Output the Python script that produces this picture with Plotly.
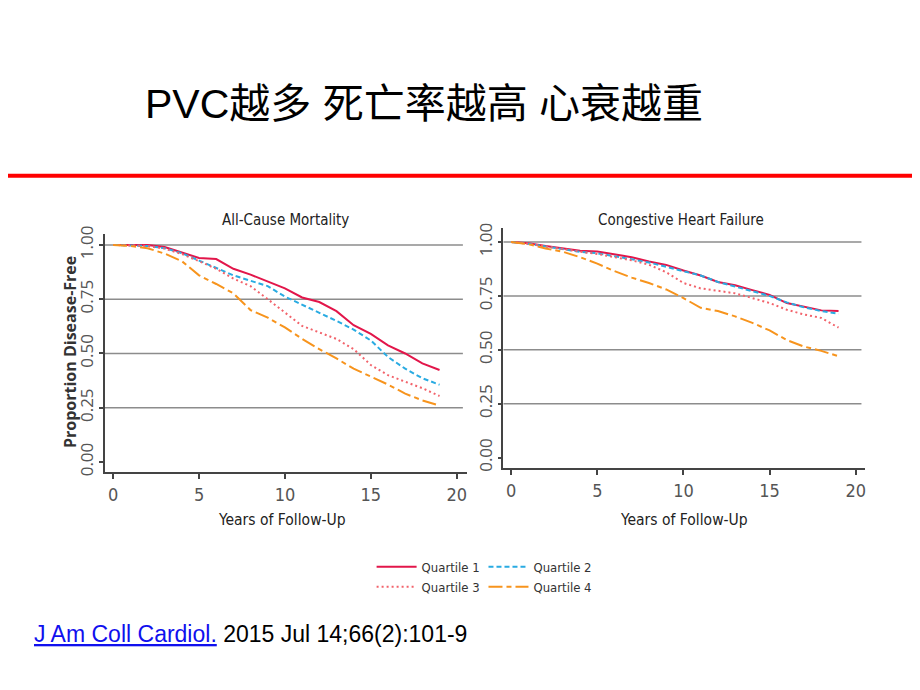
import plotly.graph_objects as go

# ---------------- data ----------------
years = [0, 1, 2, 3, 4, 5, 6, 7, 8, 9, 10, 11, 12, 13, 14, 15, 16, 17, 18, 19]

# All-Cause Mortality
acm_q1 = [1.0, 1.0, 1.0, 0.99, 0.965, 0.94, 0.935, 0.89, 0.863, 0.83, 0.80, 0.758, 0.737, 0.695, 0.63, 0.59, 0.537, 0.50, 0.454, 0.424]
acm_q2 = [1.0, 0.998, 0.995, 0.985, 0.962, 0.928, 0.895, 0.86, 0.835, 0.81, 0.762, 0.725, 0.687, 0.65, 0.61, 0.56, 0.484, 0.43, 0.386, 0.356]
acm_q3 = [1.0, 0.998, 0.995, 0.983, 0.958, 0.925, 0.89, 0.845, 0.81, 0.75, 0.687, 0.627, 0.597, 0.567, 0.52, 0.447, 0.40, 0.37, 0.34, 0.304]
acm_q4 = [1.0, 0.995, 0.985, 0.96, 0.925, 0.86, 0.82, 0.777, 0.70, 0.665, 0.62, 0.567, 0.52, 0.477, 0.43, 0.394, 0.357, 0.315, 0.284, 0.26]

# Congestive Heart Failure
chf_q1 = [1.0, 0.994, 0.982, 0.97, 0.96, 0.956, 0.944, 0.93, 0.91, 0.894, 0.868, 0.845, 0.815, 0.80, 0.777, 0.755, 0.717, 0.70, 0.683, 0.68]
chf_q2 = [1.0, 0.992, 0.98, 0.967, 0.955, 0.948, 0.935, 0.92, 0.905, 0.885, 0.865, 0.845, 0.815, 0.795, 0.772, 0.75, 0.72, 0.697, 0.68, 0.667]
chf_q3 = [1.0, 0.992, 0.98, 0.967, 0.955, 0.945, 0.93, 0.915, 0.895, 0.86, 0.81, 0.785, 0.774, 0.762, 0.74, 0.717, 0.686, 0.664, 0.648, 0.603]
chf_q4 = [1.0, 0.99, 0.97, 0.955, 0.93, 0.90, 0.865, 0.835, 0.81, 0.78, 0.74, 0.695, 0.68, 0.655, 0.625, 0.59, 0.545, 0.515, 0.495, 0.47]

quartile_names = ["Quartile 1", "Quartile 2", "Quartile 3", "Quartile 4"]
y_tickvals = [0, 0.25, 0.5, 0.75, 1.0]
y_ticktext = ["0.00", "0.25", "0.50", "0.75", "1.00"]
x_tickvals = [0, 5, 10, 15, 20]
grid_values = [0.25, 0.5, 0.75, 1.0]

# ---------------- styles ----------------
colors = ["#e2164a", "#29abe2", "#f2636b", "#f7941d"]
dashes = ["solid", "5px,3px", "2px,3px", "14px,4px,5px,4px"]
widths = [2, 2, 2, 2]
legend_ids = ["legend", "legend2", "legend", "legend2"]

W, H = 920, 690
OFF = 8  # page body margin
def px_x(p):
    return (p - OFF) / W
def px_y(p):
    return (H - (p - OFF)) / H

fig = go.Figure()

acm = [acm_q1, acm_q2, acm_q3, acm_q4]
chf = [chf_q1, chf_q2, chf_q3, chf_q4]
for i in range(4):
    fig.add_trace(go.Scatter(
        x=years, y=acm[i], mode="lines", name=quartile_names[i],
        line=dict(color=colors[i], width=widths[i], dash=dashes[i]),
        xaxis="x", yaxis="y", legend=legend_ids[i], showlegend=True))
for i in range(4):
    fig.add_trace(go.Scatter(
        x=years, y=chf[i], mode="lines", name=quartile_names[i],
        line=dict(color=colors[i], width=widths[i], dash=dashes[i]),
        xaxis="x2", yaxis="y2", showlegend=False))

cond = "Liberation Sans Narrow, DejaVu Sans Condensed, Roboto"
tick_font_x = dict(family=cond, size=18, color="#555555")
tick_font_y = dict(family="Open Sans, Roboto", size=17, color="#555555")

common_x = dict(tickvals=x_tickvals, ticks="outside", ticklen=6, tickwidth=1.5, tickcolor="#444",
                showline=True, linecolor="#444", linewidth=1.5, showgrid=False, zeroline=False,
                tickfont=tick_font_x)
common_y = dict(tickvals=y_tickvals, ticktext=y_ticktext, tickangle=-90, ticks="outside", ticklen=4,
                tickwidth=1.5, tickcolor="#444", showline=True, linecolor="#444", linewidth=1.5,
                showgrid=False, zeroline=False, tickfont=tick_font_y, ticklabelstandoff=-1)

fig.update_layout(
    width=W, height=H, autosize=False,
    margin=dict(l=0, r=0, t=0, b=0),
    paper_bgcolor="white", plot_bgcolor="white",
    xaxis=dict(domain=[px_x(105), px_x(467)], range=[-0.48, 20.57], anchor="y", **common_x),
    yaxis=dict(domain=[px_y(472), px_y(230)], range=[-0.044, 1.048], anchor="x", **common_y),
    xaxis2=dict(domain=[px_x(504), px_x(866)], range=[-0.446, 20.54], anchor="y2", **common_x),
    yaxis2=dict(domain=[px_y(468), px_y(223)], range=[-0.047, 1.067], anchor="x2", **common_y),
    legend=dict(x=px_x(372), y=px_y(554), xanchor="left", yanchor="top", bgcolor="rgba(0,0,0,0)",
                font=dict(family=cond, size=13, color="#333"),
                tracegroupgap=0, itemwidth=40),
    legend2=dict(x=px_x(484), y=px_y(554), xanchor="left", yanchor="top", bgcolor="rgba(0,0,0,0)",
                 font=dict(family=cond, size=13, color="#333"),
                 tracegroupgap=0, itemwidth=40),
    showlegend=True,
)

# gridlines
shapes = []
for ax_x, ax_y, x1 in [("x", "y", 0.99), ("x2", "y2", 0.99)]:
    for g in grid_values:
        shapes.append(dict(type="line", xref=f"{ax_x} domain", yref=ax_y, x0=0, x1=x1, y0=g, y1=g,
                           line=dict(color="#8c8c8c", width=1.5), layer="below"))
# red separator line
shapes.append(dict(type="line", xref="paper", yref="paper", x0=-0.02, x1=1, y0=px_y(170), y1=px_y(170),
                   line=dict(color="#ff0000", width=4)))
fig.update_layout(shapes=shapes)

annotations = [
    dict(text="PVC越多 死亡率越高 心衰越重", xref="paper", yref="paper", x=px_x(143), y=px_y(97),
         xanchor="left", yanchor="middle", showarrow=False,
         font=dict(family="Liberation Sans, Noto Sans CJK SC", size=41, color="#000")),
    dict(text="All-Cause Mortality", xref="x domain", yref="paper", x=0.5, y=px_y(215),
         xanchor="center", yanchor="middle", showarrow=False,
         font=dict(family=cond, size=15, color="#222")),
    dict(text="Congestive Heart Failure", xref="x2 domain", yref="paper", x=0.49, y=px_y(215),
         xanchor="center", yanchor="middle", showarrow=False,
         font=dict(family=cond, size=15, color="#222")),
    dict(text="Years of Follow-Up", xref="x domain", yref="paper", x=0.49, y=px_y(521),
         xanchor="center", yanchor="middle", showarrow=False,
         font=dict(family=cond, size=15.5, color="#222")),
    dict(text="Years of Follow-Up", xref="x2 domain", yref="paper", x=0.5, y=px_y(521),
         xanchor="center", yanchor="middle", showarrow=False,
         font=dict(family=cond, size=15.5, color="#222")),
    dict(text="<b>Proportion Disease-Free</b>", xref="paper", yref="paper", x=px_x(70), y=px_y(350),
         xanchor="center", yanchor="middle", textangle=-90, showarrow=False,
         font=dict(family="Open Sans, Roboto", size=16, color="#333")),
    dict(text="<span style='color:#1010ee;text-decoration:underline'>J Am Coll Cardiol.</span> 2015 Jul 14;66(2):101-9",
         xref="paper", yref="paper", x=px_x(32), y=px_y(638), xanchor="left", yanchor="middle",
         showarrow=False, font=dict(family="Liberation Sans, Arial", size=23, color="#000")),
]
fig.update_layout(annotations=annotations)

fig.write_html("out.html")
